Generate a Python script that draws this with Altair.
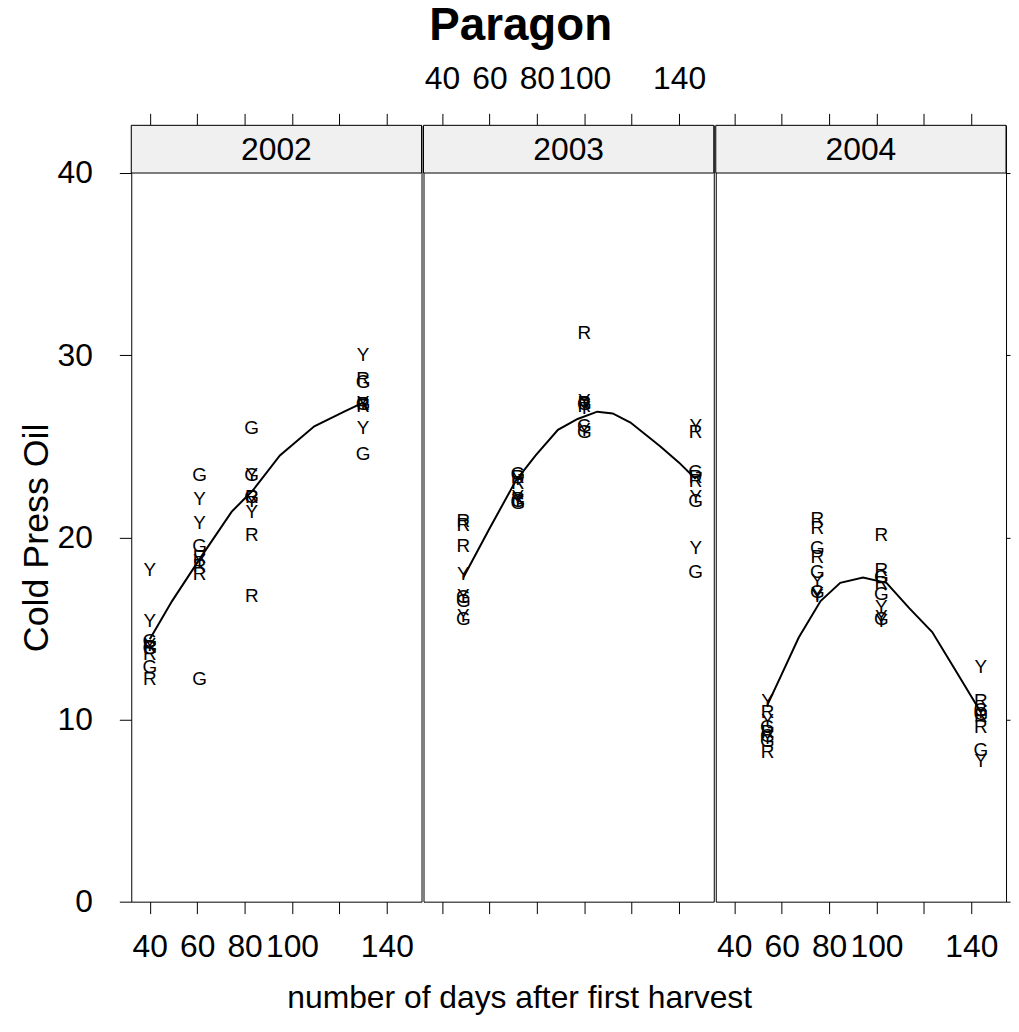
import altair as alt
import pandas as pd

FONT = "Liberation Sans"

years = ["2002", "2003", "2004"]

# sampling days (days after first harvest) for each year
days = {
    "2002": [40, 61, 83, 130],
    "2003": [49, 72, 100, 147],
    "2004": [54, 75, 102, 144],
}

# cold press oil readings, three per variety and sampling day
oil_Y = {
    "2002": [[18.2, 15.4, 14.1], [22.1, 20.8, 18.7], [23.4, 22.0, 21.4], [30.0, 27.4, 26.0]],
    "2003": [[18.0, 16.8, 15.7], [23.2, 22.0, 22.2], [27.5, 27.1, 25.9], [26.1, 22.2, 19.4]],
    "2004": [[11.0, 9.9, 9.0], [17.6, 16.9, 16.8], [16.2, 15.6, 15.4], [12.9, 10.4, 7.7]],
}
oil_R = {
    "2002": [[14.0, 13.6, 12.2], [18.9, 18.4, 18.0], [22.2, 20.1, 16.8], [28.7, 27.3, 27.2]],
    "2003": [[20.9, 20.7, 19.5], [23.3, 23.0, 22.1], [31.2, 27.4, 27.2], [25.8, 23.3, 23.1]],
    "2004": [[10.4, 9.3, 8.2], [21.0, 20.5, 18.9], [20.1, 18.2, 17.5], [11.0, 9.6, 10.2]],
}
oil_G = {
    "2002": [[14.3, 13.9, 12.9], [23.4, 19.5, 12.2], [26.0, 23.4, 22.2], [28.5, 27.3, 24.6]],
    "2003": [[16.7, 16.5, 15.5], [23.5, 22.0, 21.9], [27.3, 26.1, 25.8], [23.6, 22.0, 18.1]],
    "2004": [[9.6, 9.1, 8.8], [19.4, 18.1, 17.0], [17.8, 16.9, 15.5], [10.5, 8.3, 10.3]],
}

# smooth (loess) curve per year
curve_day = {
    "2002": [40, 49.4, 61.5, 74.5, 83.6, 94.9, 109.4, 122, 130],
    "2003": [49, 60.1, 71.1, 79.5, 88.9, 97.2, 105.5, 112, 119.5, 132, 140, 147],
    "2004": [54, 59.7, 67.2, 76.4, 84.7, 94.3, 104.2, 113.9, 123.5, 133.3, 144],
}
curve_oil = {
    "2002": [14.4, 16.5, 18.9, 21.4, 22.6, 24.5, 26.1, 26.9, 27.4],
    "2003": [17.8, 20.5, 23.1, 24.5, 25.9, 26.5, 26.9, 26.8, 26.3, 25.0, 24.1, 23.2],
    "2004": [10.8, 12.4, 14.5, 16.5, 17.5, 17.8, 17.5, 16.1, 14.8, 12.7, 10.4],
}

x_ticks = [40, 60, 80, 100, 120, 140]
y_ticks = [0, 10, 20, 30, 40]

rows = []
for yr in years:
    for letter, table in (("Y", oil_Y), ("R", oil_R), ("G", oil_G)):
        for d, vals in zip(days[yr], table[yr]):
            for v in vals:
                rows.append({"year": yr, "day": d, "variety": letter, "oil": v})
points = pd.DataFrame(rows)

curves = pd.DataFrame(
    [{"year": yr, "day": d, "oil": v}
     for yr in years for d, v in zip(curve_day[yr], curve_oil[yr])]
)

PW = 292          # panel width
PH = 781          # panel + strip height
STRIP = 48        # strip height in px
PLOT_H = PH - STRIP
YMAX = 40 + 40 * STRIP / PLOT_H
XMIN = 32.2
XMAX = XMIN + PW / 2.385

xscale = alt.Scale(domain=[XMIN, XMAX], nice=False, zero=False)
yscale = alt.Scale(domain=[0, YMAX], nice=False, zero=False)

label_expr = "datum.value == 120 ? '' : datum.label"


def x_axis(orient, labels):
    return alt.Axis(
        orient=orient, values=x_ticks, labels=labels, labelExpr=label_expr,
        tickSize=12, labelPadding=18, labelOverlap=False, labelFlush=False,
        labelBound=False, grid=False, domain=False, title=None,
    )


def panel(i, yr):
    pts = points[points.year == yr]
    cur = curves[curves.year == yr]

    bottom_labels = i in (0, 2)
    top_labels = i == 1

    if i == 0:
        yax_left = alt.Axis(
            orient="left", values=y_ticks, tickSize=12, labelPadding=27,
            grid=False, domain=False, title="Cold Press Oil", titleFontSize=36,
            titleX=-95, titleY=STRIP + PLOT_H / 2, titleAngle=270,
            titleAlign="center", titleBaseline="middle",
        )
    else:
        yax_left = None

    if i == 2:
        yax_right = alt.Axis(orient="right", values=y_ticks, tickSize=4,
                             labels=False, grid=False, domain=False, title=None)
    else:
        yax_right = None

    strip_bg = alt.Chart(pd.DataFrame({"year": [yr]})).mark_rect(
        fill="#f0f0f0", stroke="black", strokeWidth=1
    ).encode(x=alt.value(0), x2=alt.value(PW), y=alt.value(0), y2=alt.value(STRIP))

    strip_txt = alt.Chart(pd.DataFrame({"year": [yr]})).mark_text(
        font=FONT, fontSize=32, color="black", baseline="middle", align="center", dy=1
    ).encode(x=alt.value(PW / 2), y=alt.value(STRIP / 2), text="year:N")

    txt = alt.Chart(pts).mark_text(
        font=FONT, fontSize=19, color="black", baseline="middle", align="center"
    ).encode(
        x=alt.X("day:Q", scale=xscale, axis=x_axis("bottom", bottom_labels)),
        y=alt.Y("oil:Q", scale=yscale, axis=yax_left),
        text="variety:N",
    )

    line = alt.Chart(cur).mark_line(color="black", strokeWidth=2).encode(
        x=alt.X("day:Q", scale=xscale, axis=x_axis("top", top_labels)),
        y=alt.Y("oil:Q", scale=yscale, axis=yax_right),
        order="day:Q",
    )

    return alt.layer(strip_bg, strip_txt, txt, line).resolve_axis(
        x="independent", y="independent"
    ).properties(width=PW, height=PH)


panels = alt.hconcat(
    *[panel(i, yr) for i, yr in enumerate(years)], spacing=0
).properties(
    title=alt.TitleParams(
        "number of days after first harvest", orient="bottom", anchor="middle",
        font=FONT, fontSize=32, fontWeight="normal", color="black", offset=20, dx=5,
    )
)

chart = alt.vconcat(panels, spacing=0).properties(
    title=alt.TitleParams(
        "Paragon", font=FONT, fontSize=46, fontWeight="bold", color="black",
        anchor="middle", offset=12, dx=6,
    ),
    padding={"left": 10, "top": -8, "right": 0, "bottom": 0},
).configure_view(
    stroke="black", strokeWidth=1
).configure_axis(
    labelFont=FONT, labelFontSize=32, labelColor="black",
    titleFont=FONT, titleFontSize=32, titleFontWeight="normal", titleColor="black",
    tickColor="black", tickWidth=1, domainColor="black",
).configure_concat(spacing=0)

chart.save("out.html", embed_options={"renderer": "svg", "actions": False})
